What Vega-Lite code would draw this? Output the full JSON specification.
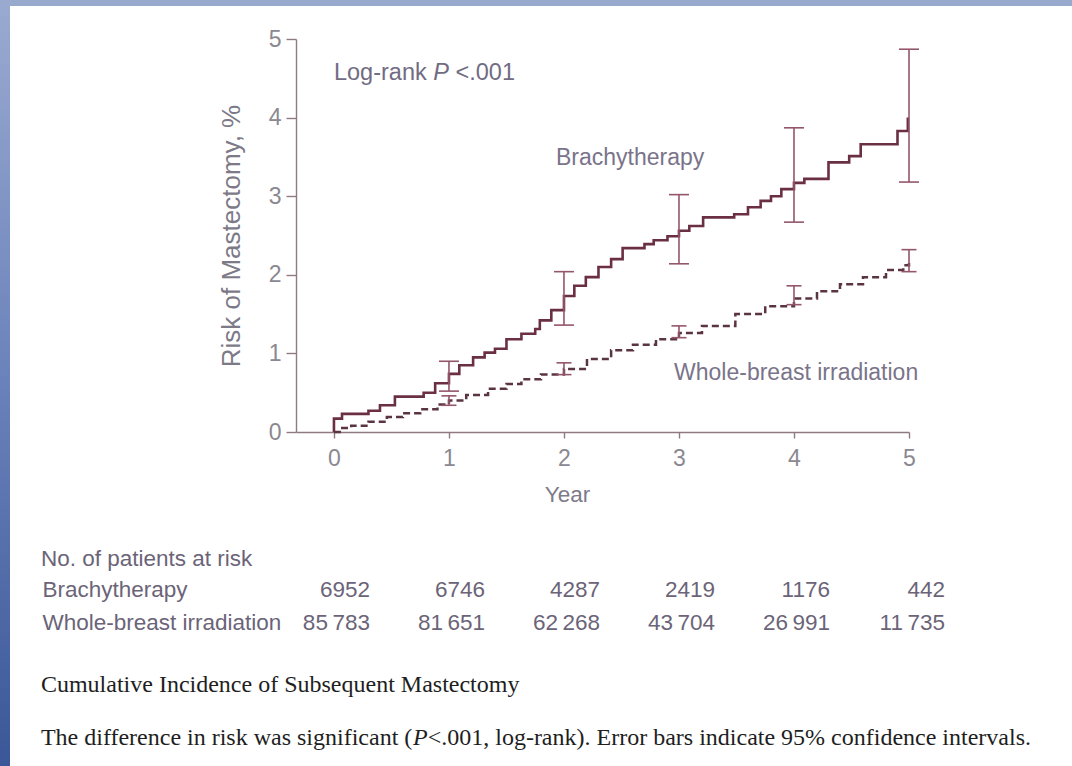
{
  "$schema": "https://vega.github.io/schema/vega-lite/v6.json",
  "padding": 0,
  "background": "white",
  "config": {
    "view": {"stroke": null},
    "font": "Liberation Sans",
    "concat": {"spacing": 0},
    "locale": {"number": {"decimal": ".", "thousands": "\u2009", "grouping": [3], "currency": ["", ""]}},
    "axis": {
      "grid": false,
      "domainColor": "#8f7a82",
      "tickColor": "#8f7a82",
      "domainWidth": 1.4,
      "tickWidth": 1.4,
      "labelColor": "#8a8890",
      "labelFontSize": 23,
      "labelFont": "Liberation Sans",
      "titleFont": "Liberation Sans",
      "titleColor": "#7d7a88",
      "titleFontWeight": "normal"
    }
  },
  "datasets": {
    "curves": [
      {"group": "Brachytherapy", "year": 0, "risk": 0},
      {"group": "Brachytherapy", "year": 0, "risk": 0.17},
      {"group": "Brachytherapy", "year": 0.07, "risk": 0.23},
      {"group": "Brachytherapy", "year": 0.3, "risk": 0.27},
      {"group": "Brachytherapy", "year": 0.4, "risk": 0.34},
      {"group": "Brachytherapy", "year": 0.53, "risk": 0.45},
      {"group": "Brachytherapy", "year": 0.78, "risk": 0.5},
      {"group": "Brachytherapy", "year": 0.88, "risk": 0.62},
      {"group": "Brachytherapy", "year": 1.0, "risk": 0.74},
      {"group": "Brachytherapy", "year": 1.09, "risk": 0.85},
      {"group": "Brachytherapy", "year": 1.21, "risk": 0.95},
      {"group": "Brachytherapy", "year": 1.31, "risk": 1.01},
      {"group": "Brachytherapy", "year": 1.4, "risk": 1.06},
      {"group": "Brachytherapy", "year": 1.5, "risk": 1.18},
      {"group": "Brachytherapy", "year": 1.63, "risk": 1.25},
      {"group": "Brachytherapy", "year": 1.75, "risk": 1.31},
      {"group": "Brachytherapy", "year": 1.79, "risk": 1.42},
      {"group": "Brachytherapy", "year": 1.89, "risk": 1.55},
      {"group": "Brachytherapy", "year": 2.0, "risk": 1.73},
      {"group": "Brachytherapy", "year": 2.09, "risk": 1.86},
      {"group": "Brachytherapy", "year": 2.19, "risk": 1.97},
      {"group": "Brachytherapy", "year": 2.3, "risk": 2.1},
      {"group": "Brachytherapy", "year": 2.41, "risk": 2.2},
      {"group": "Brachytherapy", "year": 2.51, "risk": 2.34},
      {"group": "Brachytherapy", "year": 2.7, "risk": 2.39},
      {"group": "Brachytherapy", "year": 2.78, "risk": 2.44},
      {"group": "Brachytherapy", "year": 2.9, "risk": 2.49},
      {"group": "Brachytherapy", "year": 3.0, "risk": 2.56},
      {"group": "Brachytherapy", "year": 3.09, "risk": 2.62},
      {"group": "Brachytherapy", "year": 3.21, "risk": 2.73},
      {"group": "Brachytherapy", "year": 3.48, "risk": 2.77},
      {"group": "Brachytherapy", "year": 3.6, "risk": 2.86},
      {"group": "Brachytherapy", "year": 3.71, "risk": 2.94},
      {"group": "Brachytherapy", "year": 3.8, "risk": 3.0},
      {"group": "Brachytherapy", "year": 3.89, "risk": 3.09},
      {"group": "Brachytherapy", "year": 4.0, "risk": 3.17},
      {"group": "Brachytherapy", "year": 4.09, "risk": 3.22},
      {"group": "Brachytherapy", "year": 4.3, "risk": 3.43},
      {"group": "Brachytherapy", "year": 4.48, "risk": 3.51},
      {"group": "Brachytherapy", "year": 4.58, "risk": 3.66},
      {"group": "Brachytherapy", "year": 4.9, "risk": 3.83},
      {"group": "Brachytherapy", "year": 4.99, "risk": 4.0},
      {"group": "Whole-breast irradiation", "year": 0, "risk": 0},
      {"group": "Whole-breast irradiation", "year": 0.05, "risk": 0.05},
      {"group": "Whole-breast irradiation", "year": 0.15, "risk": 0.08},
      {"group": "Whole-breast irradiation", "year": 0.3, "risk": 0.13},
      {"group": "Whole-breast irradiation", "year": 0.46, "risk": 0.19},
      {"group": "Whole-breast irradiation", "year": 0.6, "risk": 0.24},
      {"group": "Whole-breast irradiation", "year": 0.75, "risk": 0.29},
      {"group": "Whole-breast irradiation", "year": 0.9, "risk": 0.35},
      {"group": "Whole-breast irradiation", "year": 1.0, "risk": 0.4},
      {"group": "Whole-breast irradiation", "year": 1.15, "risk": 0.47},
      {"group": "Whole-breast irradiation", "year": 1.34, "risk": 0.55},
      {"group": "Whole-breast irradiation", "year": 1.5, "risk": 0.61},
      {"group": "Whole-breast irradiation", "year": 1.63, "risk": 0.67},
      {"group": "Whole-breast irradiation", "year": 1.8, "risk": 0.73},
      {"group": "Whole-breast irradiation", "year": 2.0, "risk": 0.8},
      {"group": "Whole-breast irradiation", "year": 2.2, "risk": 0.93},
      {"group": "Whole-breast irradiation", "year": 2.41, "risk": 1.04},
      {"group": "Whole-breast irradiation", "year": 2.6, "risk": 1.11},
      {"group": "Whole-breast irradiation", "year": 2.8, "risk": 1.18},
      {"group": "Whole-breast irradiation", "year": 3.0, "risk": 1.26},
      {"group": "Whole-breast irradiation", "year": 3.2, "risk": 1.35},
      {"group": "Whole-breast irradiation", "year": 3.49, "risk": 1.5},
      {"group": "Whole-breast irradiation", "year": 3.75, "risk": 1.6},
      {"group": "Whole-breast irradiation", "year": 4.0, "risk": 1.7},
      {"group": "Whole-breast irradiation", "year": 4.2, "risk": 1.79},
      {"group": "Whole-breast irradiation", "year": 4.4, "risk": 1.88},
      {"group": "Whole-breast irradiation", "year": 4.6, "risk": 1.97},
      {"group": "Whole-breast irradiation", "year": 4.8, "risk": 2.06},
      {"group": "Whole-breast irradiation", "year": 4.95, "risk": 2.12},
      {"group": "Whole-breast irradiation", "year": 5.0, "risk": 2.16}
    ],
    "ci": [
      {"group": "Brachytherapy", "year": 1, "lo": 0.52, "hi": 0.9},
      {"group": "Brachytherapy", "year": 2, "lo": 1.36, "hi": 2.04},
      {"group": "Brachytherapy", "year": 3, "lo": 2.14, "hi": 3.02},
      {"group": "Brachytherapy", "year": 4, "lo": 2.67, "hi": 3.87},
      {"group": "Brachytherapy", "year": 5, "lo": 3.18, "hi": 4.87},
      {"group": "Whole-breast irradiation", "year": 1, "lo": 0.34, "hi": 0.46},
      {"group": "Whole-breast irradiation", "year": 2, "lo": 0.73, "hi": 0.88},
      {"group": "Whole-breast irradiation", "year": 3, "lo": 1.2, "hi": 1.35},
      {"group": "Whole-breast irradiation", "year": 4, "lo": 1.62, "hi": 1.86},
      {"group": "Whole-breast irradiation", "year": 5, "lo": 2.04, "hi": 2.32}
    ],
    "atrisk": [
      {"group": "Brachytherapy", "year": 0, "n": 6952},
      {"group": "Brachytherapy", "year": 1, "n": 6746},
      {"group": "Brachytherapy", "year": 2, "n": 4287},
      {"group": "Brachytherapy", "year": 3, "n": 2419},
      {"group": "Brachytherapy", "year": 4, "n": 1176},
      {"group": "Brachytherapy", "year": 5, "n": 442},
      {"group": "Whole-breast irradiation", "year": 0, "n": 85783},
      {"group": "Whole-breast irradiation", "year": 1, "n": 81651},
      {"group": "Whole-breast irradiation", "year": 2, "n": 62268},
      {"group": "Whole-breast irradiation", "year": 3, "n": 43704},
      {"group": "Whole-breast irradiation", "year": 4, "n": 26991},
      {"group": "Whole-breast irradiation", "year": 5, "n": 11735}
    ]
  },
  "hconcat": [
    {
      "width": 10,
      "height": 766,
      "data": {"values": [{}]},
      "mark": {
        "type": "rect",
        "fill": {
          "gradient": "linear", "x1": 0, "y1": 0, "x2": 0, "y2": 1,
          "stops": [
            {"offset": 0, "color": "#9aaad0"},
            {"offset": 0.5, "color": "#6a82bb"},
            {"offset": 1, "color": "#3b5797"}
          ]
        }
      },
      "encoding": {}
    },
    {
      "spacing": 22,
      "vconcat": [
        {
          "width": 1062,
          "height": 6,
          "data": {"values": [{}]},
          "mark": {"type": "rect", "fill": "#98a9ce"},
          "encoding": {}
        },
        {
          "spacing": 29,
          "hconcat": [
            {
              "width": 1,
              "height": 1,
              "data": {"values": [{}]},
              "mark": {"type": "rect", "opacity": 0},
              "encoding": {}
            },
            {
              "width": 613,
              "height": 393,
              "layer": [
                {
                  "data": {"name": "curves"},
                  "transform": [{"filter": "datum.group === 'Whole-breast irradiation'"}],
                  "mark": {"type": "line", "interpolate": "step-after", "color": "#5b3444", "strokeWidth": 2.5, "strokeDash": [7, 4]},
                  "encoding": {
                    "x": {
                      "field": "year", "type": "quantitative",
                      "scale": {"domain": [-0.33, 5], "nice": false, "zero": false},
                      "axis": {
                        "values": [0, 1, 2, 3, 4, 5], "format": "d", "title": "Year", "tickSize": 6, "labelPadding": 9,
                        "labelFlush": false, "titleFontSize": 22.5, "titleX": 271, "titleY": 62,
                        "titleBaseline": "middle", "titleAlign": "center"
                      }
                    },
                    "y": {
                      "field": "risk", "type": "quantitative",
                      "scale": {"domain": [0, 5], "nice": false},
                      "axis": {
                        "values": [0, 1, 2, 3, 4, 5], "format": "d", "title": "Risk of Mastectomy, %", "tickSize": 10,
                        "labelPadding": 5, "titleFontSize": 26, "titleX": -65, "titleBaseline": "middle",
                        "labelOverlap": false
                      }
                    }
                  }
                },
                {
                  "data": {"name": "curves"},
                  "transform": [{"filter": "datum.group === 'Brachytherapy'"}],
                  "mark": {"type": "line", "interpolate": "step-after", "color": "#6b2f43", "strokeWidth": 2.6},
                  "encoding": {
                    "x": {"field": "year", "type": "quantitative"},
                    "y": {"field": "risk", "type": "quantitative"}
                  }
                },
                {
                  "data": {"name": "ci"},
                  "mark": {"type": "rule", "color": "#94566a", "strokeWidth": 1.6},
                  "encoding": {
                    "x": {"field": "year", "type": "quantitative"},
                    "y": {"field": "lo", "type": "quantitative"},
                    "y2": {"field": "hi"}
                  }
                },
                {
                  "data": {"name": "ci"},
                  "mark": {"type": "tick", "orient": "horizontal", "color": "#94566a", "thickness": 1.6, "opacity": 1},
                  "encoding": {
                    "x": {"field": "year", "type": "quantitative"},
                    "y": {"field": "lo", "type": "quantitative"},
                    "size": {"condition": {"test": "datum.group === 'Brachytherapy'", "value": 20}, "value": 15}
                  }
                },
                {
                  "data": {"name": "ci"},
                  "mark": {"type": "tick", "orient": "horizontal", "color": "#94566a", "thickness": 1.6, "opacity": 1},
                  "encoding": {
                    "x": {"field": "year", "type": "quantitative"},
                    "y": {"field": "hi", "type": "quantitative"},
                    "size": {"condition": {"test": "datum.group === 'Brachytherapy'", "value": 20}, "value": 15}
                  }
                },
                {
                  "data": {"values": [{}]},
                  "mark": {"type": "text", "text": "Log-rank", "align": "left", "baseline": "middle", "fontSize": 23.5, "color": "#716c82"},
                  "encoding": {"x": {"datum": 0.0}, "y": {"datum": 4.57}}
                },
                {
                  "data": {"values": [{}]},
                  "mark": {"type": "text", "text": "P", "fontStyle": "italic", "align": "left", "baseline": "middle", "fontSize": 23.5, "color": "#716c82"},
                  "encoding": {"x": {"datum": 0.864}, "y": {"datum": 4.57}}
                },
                {
                  "data": {"values": [{}]},
                  "mark": {"type": "text", "text": "<.001", "align": "left", "baseline": "middle", "fontSize": 23.5, "color": "#716c82"},
                  "encoding": {"x": {"datum": 1.057}, "y": {"datum": 4.57}}
                },
                {
                  "data": {"values": [{}]},
                  "mark": {"type": "text", "text": "Brachytherapy", "align": "left", "baseline": "middle", "fontSize": 23, "color": "#7a748a"},
                  "encoding": {"x": {"datum": 1.93}, "y": {"datum": 3.48}}
                },
                {
                  "data": {"values": [{}]},
                  "mark": {"type": "text", "text": "Whole-breast irradiation", "align": "left", "baseline": "middle", "fontSize": 23, "color": "#7a748a"},
                  "encoding": {"x": {"datum": 2.957}, "y": {"datum": 0.75}}
                },
                {
                  "data": {"values": [{}]},
                  "mark": {"type": "text", "text": "No. of patients at risk", "align": "left", "baseline": "middle", "fontSize": 22.5, "color": "#6b6478"},
                  "encoding": {"x": {"datum": -2.548}, "y": {"datum": -1.61}}
                },
                {
                  "data": {"values": [{}]},
                  "mark": {"type": "text", "text": "Brachytherapy", "align": "left", "baseline": "middle", "fontSize": 22.5, "color": "#6b6478"},
                  "encoding": {"x": {"datum": -2.535}, "y": {"datum": -2.015}}
                },
                {
                  "data": {"values": [{}]},
                  "mark": {"type": "text", "text": "Whole-breast irradiation", "align": "left", "baseline": "middle", "fontSize": 22.5, "color": "#6b6478"},
                  "encoding": {"x": {"datum": -2.535}, "y": {"datum": -2.425}}
                },
                {
                  "data": {"name": "atrisk"},
                  "transform": [{"filter": "datum.group === 'Brachytherapy'"}],
                  "mark": {"type": "text", "align": "right", "baseline": "middle", "dx": 36, "fontSize": 22.5, "color": "#6b6478"},
                  "encoding": {
                    "x": {"field": "year", "type": "quantitative"},
                    "y": {"datum": -2.015},
                    "text": {"field": "n", "type": "quantitative", "format": "d"}
                  }
                },
                {
                  "data": {"name": "atrisk"},
                  "transform": [{"filter": "datum.group === 'Whole-breast irradiation'"}],
                  "mark": {"type": "text", "align": "right", "baseline": "middle", "dx": 36, "fontSize": 22.5, "color": "#6b6478"},
                  "encoding": {
                    "x": {"field": "year", "type": "quantitative"},
                    "y": {"datum": -2.425},
                    "text": {"field": "n", "type": "quantitative", "format": ",d"}
                  }
                },
                {
                  "data": {"values": [{}]},
                  "mark": {"type": "text", "text": "Cumulative Incidence of Subsequent Mastectomy", "align": "left", "baseline": "middle", "font": "Liberation Serif", "fontSize": 24, "color": "#1e1e1e"},
                  "encoding": {"x": {"datum": -2.548}, "y": {"datum": -3.22}}
                },
                {
                  "data": {"values": [{}]},
                  "mark": {"type": "text", "text": "The difference in risk was significant (", "align": "left", "baseline": "middle", "font": "Liberation Serif", "fontSize": 24, "color": "#1e1e1e"},
                  "encoding": {"x": {"datum": -2.548}, "y": {"datum": -3.89}}
                },
                {
                  "data": {"values": [{}]},
                  "mark": {"type": "text", "text": "P", "fontStyle": "italic", "align": "left", "baseline": "middle", "font": "Liberation Serif", "fontSize": 24, "color": "#1e1e1e"},
                  "encoding": {"x": {"datum": 0.687}, "y": {"datum": -3.89}}
                },
                {
                  "data": {"values": [{}]},
                  "mark": {"type": "text", "text": "<.001, log-rank). Error bars indicate 95% confidence intervals.", "align": "left", "baseline": "middle", "font": "Liberation Serif", "fontSize": 24, "color": "#1e1e1e"},
                  "encoding": {"x": {"datum": 0.815}, "y": {"datum": -3.89}}
                }
              ]
            }
          ]
        }
      ]
    }
  ]
}
